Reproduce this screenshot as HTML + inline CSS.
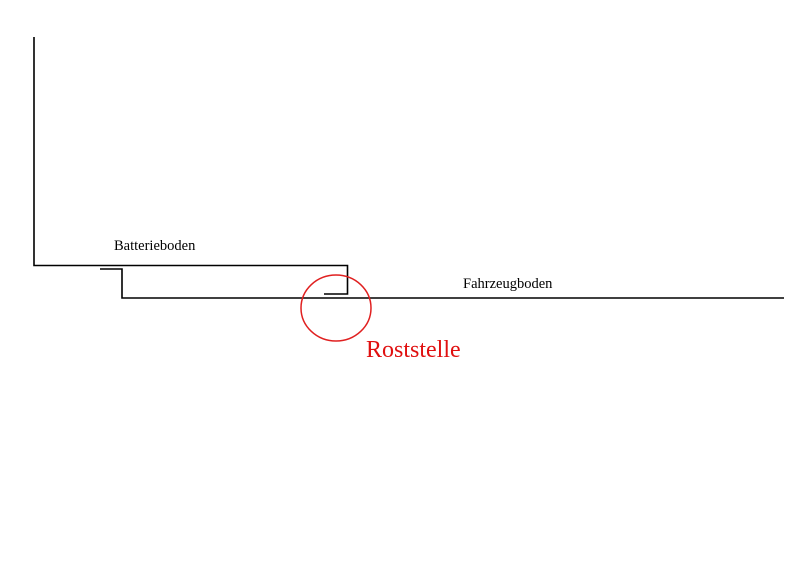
<!DOCTYPE html>
<html><head><meta charset="utf-8"><style>
html,body{margin:0;padding:0;background:#fff;width:800px;height:566px;overflow:hidden}
</style></head><body>
<svg width="800" height="566" viewBox="0 0 800 566" xmlns="http://www.w3.org/2000/svg">
<rect width="800" height="566" fill="#fff"/>
<g fill="none" stroke="#000" stroke-width="1.6">
<polyline points="34,37 34,265.5 347.5,265.5 347.5,294 324,294"/>
<polyline points="100,269 122,269 122,298 784,298"/>
</g>
<ellipse cx="336" cy="308" rx="35" ry="33" fill="none" stroke="#e02020" stroke-width="1.5"/>
<text x="114" y="250" font-family="Liberation Serif, serif" font-size="14.5" fill="#000">Batterieboden</text>
<text x="463" y="288" font-family="Liberation Serif, serif" font-size="14.5" fill="#000">Fahrzeugboden</text>
<text x="366" y="357" font-family="Liberation Serif, serif" font-size="24" fill="#e01010">Roststelle</text>
</svg>
</body></html>
